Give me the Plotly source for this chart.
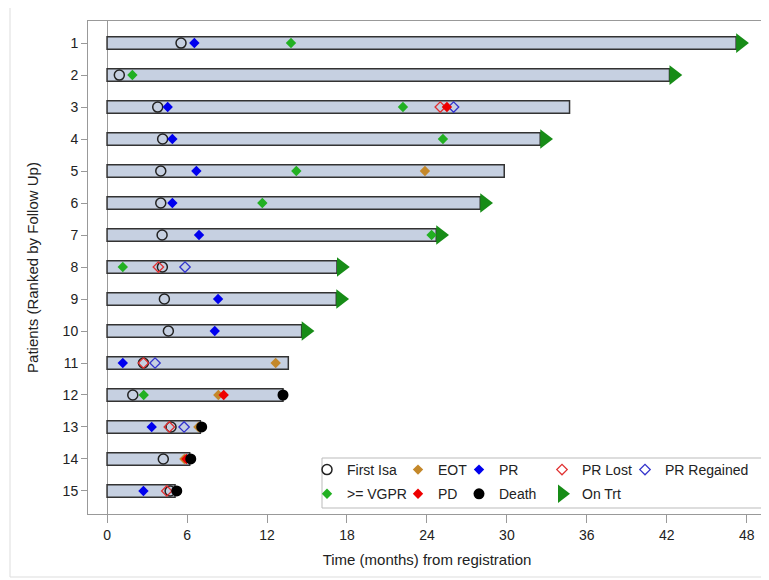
import plotly.graph_objects as go

# ---------------- data ----------------
patients = list(range(1, 16))
follow_up = [47.2, 42.2, 34.7, 32.5, 29.8, 28.0, 24.7, 17.25, 17.2, 14.6, 13.6, 13.2, 7.0, 6.2, 5.1]
on_trt_patients = [1, 2, 4, 6, 7, 8, 9, 10]

first_isa = [5.55, 0.92, 3.8, 4.17, 4.03, 4.03, 4.13, 4.15, 4.3, 4.6, 2.73, 1.93, 4.8, 4.22, 4.73]

eot_pat = [5, 11, 12, 13, 14]
eot_t = [23.85, 12.65, 8.35, 6.85, 5.8]

pr_pat = [1, 3, 4, 5, 6, 7, 9, 10, 11, 13, 15]
pr_t = [6.55, 4.55, 4.9, 6.7, 4.9, 6.9, 8.33, 8.08, 1.18, 3.35, 2.73]

prlost_pat = [3, 8, 11, 13, 15]
prlost_t = [25.0, 3.85, 2.73, 4.67, 4.48]

prreg_pat = [3, 8, 11, 13]
prreg_t = [26.0, 5.85, 3.6, 5.78]

vgpr_pat = [1, 2, 3, 4, 5, 6, 7, 8, 12]
vgpr_t = [13.8, 1.9, 22.2, 25.2, 14.2, 11.65, 24.35, 1.18, 2.75]

pd_pat = [3, 12, 14]
pd_t = [25.5, 8.75, 5.95]

death_pat = [12, 13, 14, 15]
death_t = [13.2, 7.1, 6.28, 5.23]

x_ticks = [0, 6, 12, 18, 24, 30, 36, 42, 48]

# ---------------- style ----------------
FONT = "Liberation Sans"
TXT = "#222222"
ARROW_SHIFT = 0.32  # months, so the arrow's base sits on the bar end

fig = go.Figure()

fig.add_trace(go.Bar(
    y=patients, x=follow_up, base=0, orientation="h", width=0.39,
    marker=dict(color="#C6D0E1", line=dict(color="#333333", width=1.5)),
    showlegend=False, hoverinfo="skip"))

def pt(name, xs, ys, symbol, color, size, legend, lw=0):
    mk = dict(symbol=symbol, color=color, size=size, line=dict(width=lw, color=color))
    fig.add_trace(go.Scatter(x=xs, y=ys, mode="markers", name=name, marker=mk,
                             legend=legend, legendgroup=name))

pt("First Isa", first_isa, patients, "circle-open", "#222222", 10, "legend", lw=1.5)
pt("EOT", eot_t, eot_pat, "diamond", "#C4882A", 8, "legend2")
pt("PR", pr_t, pr_pat, "diamond", "#0000EE", 8, "legend3")
pt("PR Lost", prlost_t, prlost_pat, "diamond-open", "#E03030", 8, "legend4", lw=1.3)
pt("PR Regained", prreg_t, prreg_pat, "diamond-open", "#3333CC", 8, "legend5", lw=1.3)
pt(">= VGPR", vgpr_t, vgpr_pat, "diamond", "#22B022", 8, "legend")
pt("PD", pd_t, pd_pat, "diamond", "#EE0000", 8, "legend2")
pt("Death", death_t, death_pat, "circle", "#000000", 11, "legend3")
trt_x = [follow_up[p - 1] + ARROW_SHIFT for p in on_trt_patients]
pt("On Trt", trt_x, on_trt_patients, "triangle-right", "#178C17", 17, "legend4")

# page offset (browser body margin) and target pixel layout
OFF = 8
W, H = 769 - OFF, 580 - OFF
L, R, T, B = 88 - OFF, 766 - OFF, 21 - OFF, 514 - OFF
def px(v):
    return (v - OFF - L) / (R - L)
def py(v):
    return (B - (v - OFF)) / (B - T)

leg_common = dict(font=dict(family=FONT, size=14, color=TXT), bgcolor="rgba(0,0,0,0)",
                  orientation="v", xanchor="left", yanchor="top", tracegroupgap=3,
                  itemwidth=30)
text_starts = [348, 439, 500, 583, 666]
legends = {}
for i, ts in enumerate(text_starts):
    key = "legend" if i == 0 else f"legend{i+1}"
    legends[key] = dict(leg_common, x=px(ts - 41), y=py(454))

fig.update_layout(
    width=W, height=H,
    margin=dict(l=L, r=W - R, t=T, b=H - B, autoexpand=False),
    paper_bgcolor="white", plot_bgcolor="white",
    font=dict(family=FONT, size=14, color=TXT),
    barmode="overlay",
    showlegend=True,
    **legends,
    xaxis=dict(range=[-1.43, 49.44], tickvals=x_ticks, ticks="outside", ticklen=8,
               tickcolor="#999999", showline=True, mirror=True, linecolor="#999999",
               showgrid=False, zeroline=True, zerolinecolor="#999999", zerolinewidth=1,
               tickfont=dict(size=14, color=TXT),
               title=dict(text="Time (months) from registration", font=dict(size=15, color=TXT),
                          standoff=12)),
    yaxis=dict(range=[15.72, 0.31], tickvals=patients, ticks="outside", ticklen=6,
               tickcolor="#999999", showline=True, mirror=True, linecolor="#999999",
               showgrid=False, zeroline=False, tickfont=dict(size=14, color=TXT),
               title=dict(text="Patients (Ranked by Follow Up)", font=dict(size=15, color=TXT),
                          standoff=20)),
    shapes=[
        dict(type="rect", xref="paper", yref="paper", x0=px(322), x1=px(762), y0=py(508), y1=py(458),
             line=dict(color="#BBBBBB", width=1), fillcolor="white", layer="below"),
        dict(type="rect", xref="paper", yref="paper", x0=px(10), x1=px(780), y0=py(577), y1=py(7),
             line=dict(color="#DDDDDD", width=1), fillcolor="rgba(0,0,0,0)", layer="below"),
    ],
)

fig.write_html("out.html")
